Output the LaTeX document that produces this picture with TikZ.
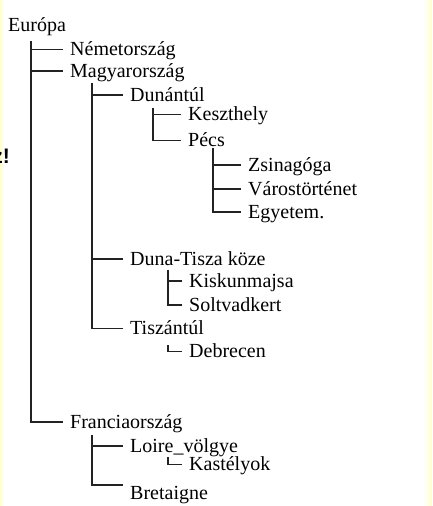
\documentclass[tikz,border=0pt]{standalone}
\usepackage{fontspec}
\setmainfont{Liberation Serif}
\setsansfont{Liberation Sans}
\usepackage{xcolor}
\definecolor{paleYellow}{RGB}{255, 255, 205}
\definecolor{branchGray}{RGB}{35, 35, 35}
\usepackage{tikz}
\usetikzlibrary{positioning,calc}

\begin{document}
\begin{tikzpicture}[x=1pt,y=-1pt,
    item/.style={anchor=base west,inner xsep=7pt,inner ysep=0pt,text height=14pt,text depth=2pt,font=\fontsize{20}{24}\selectfont},
    branch/.style={line width=1.4pt,draw=branchGray}]
    \useasboundingbox (0,0) rectangle (432,506);
    % page edges
    \fill[white] (0,0) rectangle (432,506);
    \shade[left color=paleYellow,right color=white] (0,0) rectangle (4,506);
    \shade[left color=white,right color=paleYellow] (423,0) rectangle (432,506);
    \node[anchor=base east,inner sep=0pt,font=\sffamily\bfseries\fontsize{21}{24}\selectfont] (cut) at (10,163) {z!};

    % tree labels
    \node[item] (eu) at (1,31) {Európa};
    \node[item] (de) at (63,55.5) {Németország};
    \node[item] (hu) at (63,77) {Magyarország};
    \node[item] (dunantul) at (123,101) {Dunántúl};
    \node[item] (keszthely) at (181,120.5) {Keszthely};
    \node[item] (pecs) at (181,146.5) {Pécs};
    \node[item] (zsinagoga) at (241,171) {Zsinagóga};
    \node[item] (varos) at (241,195) {Várostörténet};
    \node[item] (egyetem) at (241,218) {Egyetem.};
    \node[item] (dtk) at (123,265) {Duna-Tisza köze};
    \node[item] (kiskun) at (182,287) {Kiskunmajsa};
    \node[item] (soltvad) at (182,311) {Soltvadkert};
    \node[item] (tiszantul) at (123,334.5) {Tiszántúl};
    \node[item] (debrecen) at (182,357.5) {Debrecen};
    \node[item] (fr) at (63,428) {Franciaország};
    \node[item] (loire) at (123,452) {Loire\_völgye};
    \node[item] (kastely) at (182,470.5) {Kastélyok};
    \node[item] (bretaigne) at (123,499) {Bretaigne};

    % trunk tops
    \coordinate (eu-t) at (31,41);
    \coordinate (hu-t) at (92,83);
    \coordinate (dunantul-t) at (153,108);
    \coordinate (pecs-t) at (213,148);
    \coordinate (dtk-t) at (168,270);
    \coordinate (tiszantul-t) at (168,345);
    \coordinate (fr-t) at (92,435);
    \coordinate (loire-t) at (168,457);

    % branches
    \foreach \c in {de,hu,fr} \draw[branch] (eu-t) |- (\c.west);
    \foreach \c in {dunantul,dtk,tiszantul} \draw[branch] (hu-t) |- (\c.west);
    \foreach \c in {keszthely,pecs} \draw[branch] (dunantul-t) |- (\c.west);
    \foreach \c in {zsinagoga,varos,egyetem} \draw[branch] (pecs-t) |- (\c.west);
    \foreach \c in {kiskun,soltvad} \draw[branch] (dtk-t) |- (\c.west);
    \draw[branch] (tiszantul-t) |- (debrecen.west);
    \draw[branch] (fr-t) |- (loire.west);
    \draw[branch] (fr-t) |- (bretaigne.north west);
    \draw[branch] (loire-t) |- (kastely.west);
\end{tikzpicture}
\end{document}
